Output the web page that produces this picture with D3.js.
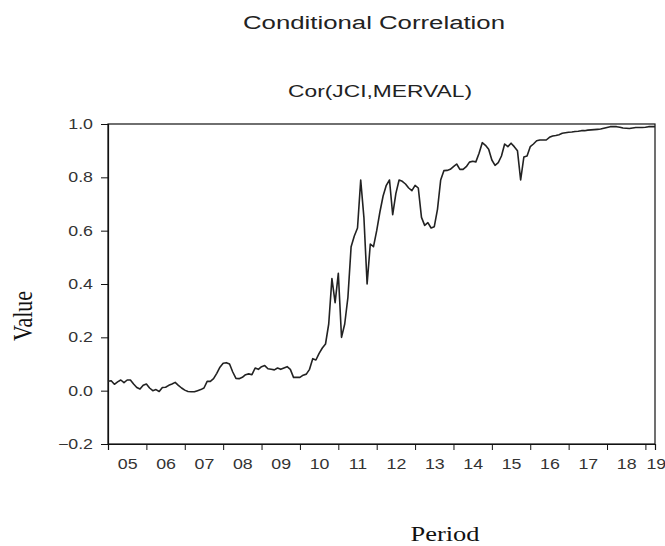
<!DOCTYPE html>
<html>
<head>
<meta charset="utf-8">
<script src="https://cdn.jsdelivr.net/npm/d3@7"></script>
<style>
  html, body { margin: 0; padding: 0; background: #fff; overflow: hidden; }
  svg { display: block; }
</style>
</head>
<body>
<svg id="chart" width="665" height="546"></svg>
<script>
// ---- data (monthly conditional correlation, Jan 2005 .. Apr 2019) ----
const startYear = 2005;
const values = [
  // 2005
  0.035, 0.037, 0.024, 0.033, 0.040, 0.030, 0.040, 0.040, 0.025, 0.012, 0.006, 0.020,
  // 2006
  0.025, 0.010, 0.000, 0.004, -0.003, 0.012, 0.013, 0.020, 0.025, 0.031, 0.020, 0.010,
  // 2007
  0.002, -0.003, -0.004, -0.004, 0.000, 0.004, 0.010, 0.035, 0.035, 0.045, 0.065, 0.088,
  // 2008
  0.103, 0.105, 0.100, 0.070, 0.046, 0.045, 0.050, 0.060, 0.063, 0.060, 0.085, 0.080,
  // 2009
  0.090, 0.094, 0.082, 0.080, 0.078, 0.085, 0.080, 0.085, 0.090, 0.080, 0.050, 0.050,
  // 2010
  0.050, 0.058, 0.062, 0.080, 0.120, 0.115, 0.140, 0.160, 0.175, 0.250, 0.420, 0.330,
  // 2011
  0.440, 0.200, 0.250, 0.350, 0.540, 0.580, 0.610, 0.790, 0.650, 0.400, 0.550, 0.540,
  // 2012
  0.600, 0.670, 0.730, 0.770, 0.790, 0.660, 0.740, 0.790, 0.785, 0.775, 0.760, 0.750,
  // 2013
  0.770, 0.760, 0.650, 0.620, 0.630, 0.610, 0.615, 0.680, 0.790, 0.825, 0.826, 0.830,
  // 2014
  0.840, 0.850, 0.830, 0.830, 0.840, 0.857, 0.860, 0.858, 0.890, 0.930, 0.920, 0.905,
  // 2015
  0.865, 0.845, 0.855, 0.880, 0.925, 0.915, 0.928, 0.915, 0.900, 0.790, 0.876, 0.880,
  // 2016
  0.915, 0.925, 0.937, 0.940, 0.940, 0.940, 0.950, 0.955, 0.957, 0.960, 0.965, 0.967,
  // 2017
  0.969, 0.970, 0.972, 0.973, 0.975, 0.975, 0.977, 0.978, 0.979, 0.980, 0.981, 0.984,
  // 2018
  0.987, 0.990, 0.990, 0.990, 0.988, 0.985, 0.984, 0.983, 0.985, 0.987, 0.987, 0.987,
  // 2019
  0.988, 0.990, 0.990, 0.990
];
const yTicks = [-0.2, 0.0, 0.2, 0.4, 0.6, 0.8, 1.0];
const yearTicks = [2005, 2006, 2007, 2008, 2009, 2010, 2011, 2012, 2013, 2014, 2015, 2016, 2017, 2018, 2019];
const yearLabels = ["05","06","07","08","09","10","11","12","13","14","15","16","17","18","19"];
const titleText = "Conditional Correlation";
const subtitleText = "Cor(JCI,MERVAL)";
const yTitle = "Value";
const xTitle = "Period";

(function draw() {
  const svg = d3.select("#chart");
  const mL = 108, mR = 655, mT = 124, mB = 444;
  const STRETCH = 1.27;
  const sans = "Liberation Sans, Arial, sans-serif";
  const serif = "Liberation Serif, Times New Roman, serif";

  const lastT = startYear + (values.length - 1) / 12;
  const x = d3.scaleLinear().domain([startYear, lastT]).range([mL, mR]);
  const y = d3.scaleLinear().domain([-0.2, 1.0]).range([mB, mT]);

  function stretch(sel, k) {
    sel.each(function() {
      const w = this.getComputedTextLength();
      d3.select(this).attr("textLength", w * k).attr("lengthAdjust", "spacingAndGlyphs");
    });
  }
  function fitWidth(sel, w) {
    sel.attr("textLength", w).attr("lengthAdjust", "spacingAndGlyphs");
  }

  // frame
  svg.append("rect")
    .attr("x", mL).attr("y", mT)
    .attr("width", mR - mL).attr("height", mB - mT)
    .attr("fill", "none").attr("stroke", "#111").attr("stroke-width", 1.2);

  // y axis
  const yAxis = svg.append("g").attr("transform", `translate(${mL},0)`)
    .call(d3.axisLeft(y).tickValues(yTicks).tickFormat(d3.format(".1f")).tickSize(7).tickPadding(8));
  yAxis.select(".domain").attr("stroke", "#111").attr("stroke-width", 1.2);
  yAxis.selectAll(".tick line").attr("stroke", "#111");
  yAxis.selectAll("text").attr("font-family", sans)
    .attr("font-size", 14).attr("fill", "#333").call(stretch, STRETCH);

  // x axis ticks (year boundaries)
  const xAxis = svg.append("g").attr("transform", `translate(0,${mB})`)
    .call(d3.axisBottom(x).tickValues(yearTicks).tickFormat("").tickSize(6));
  xAxis.select(".domain").attr("stroke", "#111").attr("stroke-width", 1.2);
  xAxis.selectAll(".tick line").attr("stroke", "#111");

  // x labels centred within each year (last, partial year label starts at its tick)
  const xLab = svg.append("g").attr("transform", `translate(0,${mB})`)
    .call(d3.axisBottom(x).tickValues(yearTicks.map(d => d + 0.5))
      .tickFormat((d, i) => yearLabels[i]).tickSize(0).tickPadding(15));
  xLab.select(".domain").remove();
  xLab.selectAll("text").attr("font-family", sans)
    .attr("font-size", 14).attr("fill", "#333").call(stretch, STRETCH);
  xLab.selectAll(".tick").filter(d => d > lastT)
    .attr("transform", d => `translate(${x(Math.floor(d)) + 1},0)`)
    .select("text").attr("text-anchor", "start");

  // line
  const line = d3.line()
    .x((d, i) => x(startYear + i / 12))
    .y(d => y(d));
  svg.append("path")
    .datum(values)
    .attr("d", line)
    .attr("fill", "none")
    .attr("stroke", "#222")
    .attr("stroke-width", 1.6)
    .attr("stroke-linejoin", "round");

  // titles
  svg.append("text")
    .attr("x", 374).attr("y", 29).attr("text-anchor", "middle")
    .attr("font-family", sans).attr("font-size", 18).attr("fill", "#222")
    .text(titleText).call(fitWidth, 262);
  svg.append("text")
    .attr("x", 380).attr("y", 97).attr("text-anchor", "middle")
    .attr("font-family", sans).attr("font-size", 17).attr("fill", "#222")
    .text(subtitleText).call(fitWidth, 184);

  svg.append("text")
    .attr("transform", `translate(32,316) rotate(-90) scale(1,1.2)`)
    .attr("text-anchor", "middle")
    .attr("font-family", serif).attr("font-size", 22).attr("fill", "#111")
    .text(yTitle);
  svg.append("text")
    .attr("x", 445).attr("y", 541).attr("text-anchor", "middle")
    .attr("font-family", serif).attr("font-size", 22).attr("fill", "#111")
    .text(xTitle).call(fitWidth, 69);
})();
</script>
</body>
</html>
